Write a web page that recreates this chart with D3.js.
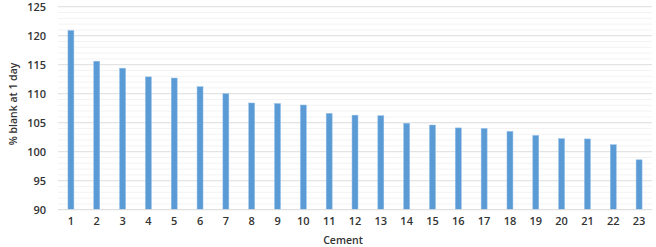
<!DOCTYPE html>
<html><head><meta charset="utf-8">
<script src="https://cdn.jsdelivr.net/npm/d3@7"></script>
<style>body{margin:0;background:#fff}svg{display:block}</style>
</head><body>
<svg id="c" width="656" height="247"></svg>
<script>
const categories = ["1","2","3","4","5","6","7","8","9","10","11","12","13","14","15","16","17","18","19","20","21","22","23"];
const values = [120.9,115.6,114.4,112.9,112.7,111.2,110.0,108.4,108.3,108.05,106.6,106.3,106.2,104.9,104.6,104.1,104.0,103.5,102.8,102.25,102.2,101.2,98.6];
const yTicks = [90,95,100,105,110,115,120,125];
const yMinor = d3.range(90,126,1);

(function(){
const svg = d3.select("#c");
const mLeft = 58, mRight = 652, mTop = 6.7, mBottom = 209.7;
const x = d3.scaleBand().domain(categories).range([mLeft,mRight]).paddingInner(0.77).paddingOuter(0.385);
const y = d3.scaleLinear().domain([90,125]).range([mBottom,mTop]);

svg.append("g").selectAll("line").data(yMinor.filter(v=>v%5!==0)).join("line")
  .attr("x1",mLeft).attr("x2",mRight).attr("y1",d=>y(d)).attr("y2",d=>y(d))
  .attr("stroke","#f3f3f3").attr("stroke-width",1);
svg.append("g").selectAll("line").data(yTicks.filter(v=>v!==90)).join("line")
  .attr("x1",mLeft).attr("x2",mRight).attr("y1",d=>y(d)).attr("y2",d=>y(d))
  .attr("stroke","#e4e4e4").attr("stroke-width",1.2);

svg.append("g").selectAll("rect").data(values).join("rect")
  .attr("x",(d,i)=>x(categories[i])).attr("width",x.bandwidth())
  .attr("y",d=>y(d)).attr("height",d=>y(90)-y(d))
  .attr("fill","#5b9bd5").attr("stroke","#8dbbe6").attr("stroke-width",0.5);

svg.append("line").attr("x1",mLeft).attr("x2",mRight).attr("y1",mBottom).attr("y2",mBottom)
  .attr("stroke","#d9d9d9").attr("stroke-width",1);

const font = "Open Sans, DejaVu Sans, sans-serif";
const yAxis = d3.axisLeft(y).tickValues(yTicks).tickSize(0).tickPadding(0);
const gy = svg.append("g").attr("transform",`translate(46,0)`).call(yAxis);
gy.select(".domain").remove();
gy.selectAll("text").attr("font-family",font).attr("font-size","11px").attr("font-weight",600).attr("fill","#333");

const xAxis = d3.axisBottom(x).tickSize(0).tickPadding(0);
const gx = svg.append("g").attr("transform",`translate(0,217)`).call(xAxis);
gx.select(".domain").remove();
gx.selectAll("text").attr("font-family",font).attr("font-size","11px").attr("font-weight",600).attr("fill","#333");

svg.append("text").attr("x",343).attr("y",244).attr("text-anchor","middle")
  .attr("font-family",font).attr("font-size","10.5px").attr("font-weight",600).attr("fill","#333").text("Cement");
svg.append("text").attr("transform","translate(17,104) rotate(-90)").attr("text-anchor","middle")
  .attr("font-family",font).attr("font-size","10.5px").attr("font-weight",600).attr("fill","#333").text("% blank at 1 day");
})();
</script>
</body></html>
